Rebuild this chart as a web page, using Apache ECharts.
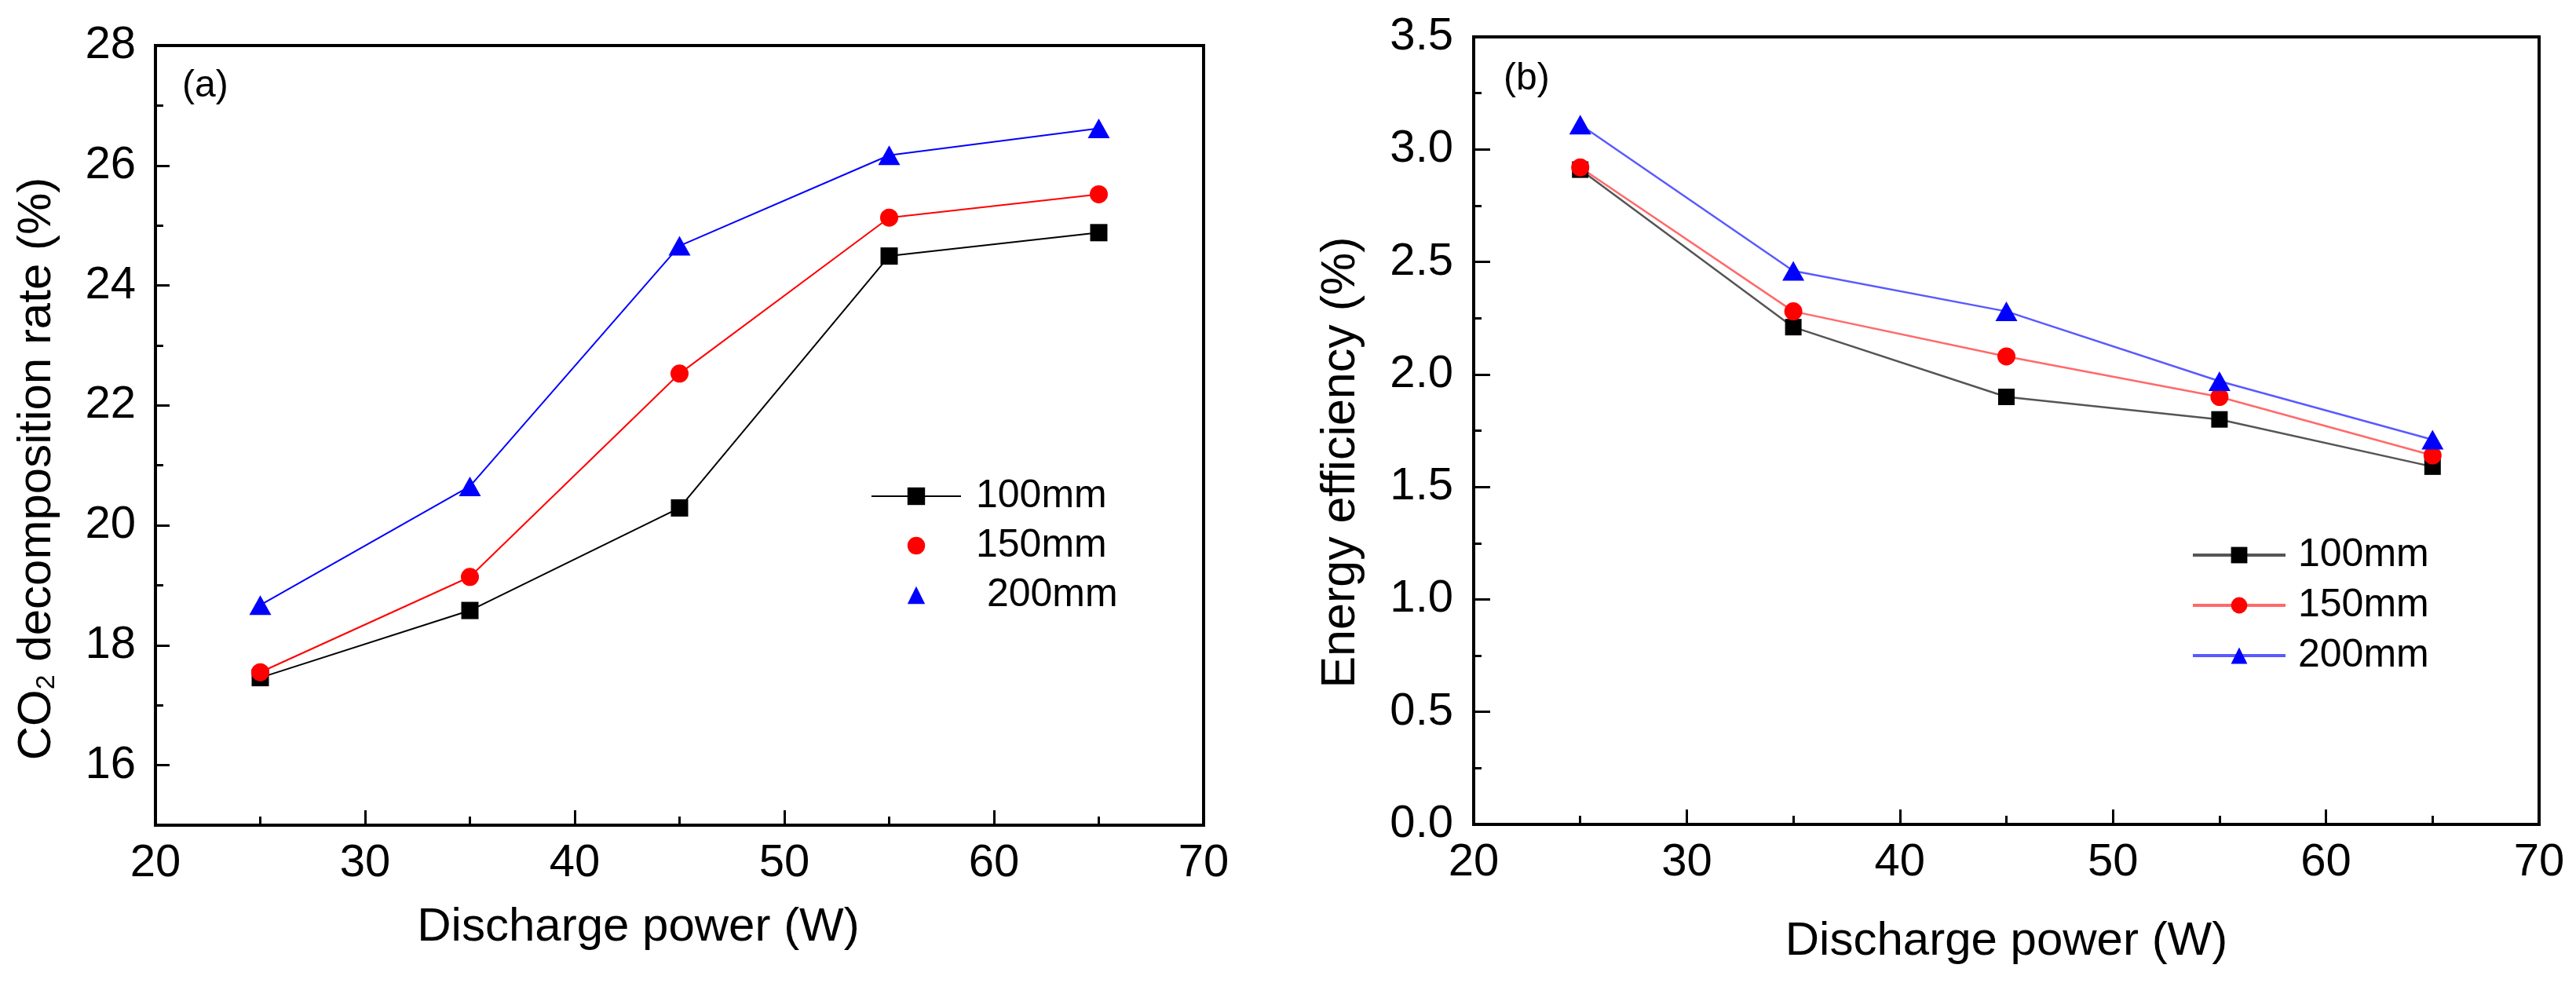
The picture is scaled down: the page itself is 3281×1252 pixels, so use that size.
<!DOCTYPE html>
<html>
<head>
<meta charset="utf-8">
<title>CO2 decomposition rate and energy efficiency</title>
<script src="https://cdn.jsdelivr.net/npm/echarts@6/dist/echarts.min.js"></script>
<style>
html,body{margin:0;padding:0;background:#fff;}
#chart{width:3281px;height:1252px;}
</style>
</head>
<body>
<div id="chart"></div>
<script>
// discharge power (W)
var power = [25, 35, 45, 55, 65];
// (a) CO2 decomposition rate (%)
var decomp100 = [17.46, 18.58, 20.29, 24.49, 24.88];
var decomp150 = [17.55, 19.14, 22.53, 25.13, 25.52];
var decomp200 = [18.67, 20.65, 24.66, 26.17, 26.62];
// (b) energy efficiency (%)
var eff100 = [2.91, 2.21, 1.90, 1.80, 1.59];
var eff150 = [2.92, 2.28, 2.08, 1.90, 1.64];
var eff200 = [3.11, 2.46, 2.28, 1.97, 1.71];
// tick values
var decompTicks = [16, 18, 20, 22, 24, 26, 28];
var decompMinor = [17, 19, 21, 23, 25, 27];

var FONT = '"Liberation Sans", Arial, sans-serif';

function pairs(ys){
	return power.map(function(x, i){ return [x, ys[i]]; });
}

//坐标轴公共样式
function xAxisFor(grid, gap, pad){
	return {
		gridIndex: grid, type: 'value', min: 20, max: 70, interval: 10,
		axisLine: {lineStyle: {color: '#000', width: 4}},
		axisTick: {inside: true, length: 19, lineStyle: {color: '#000', width: 3}},
		minorTick: {show: true, splitNumber: 2, length: 11, lineStyle: {color: '#000', width: 3}},
		axisLabel: {margin: 20, color: '#000', fontSize: 58, lineHeight: 58, fontFamily: FONT},
		splitLine: {show: false},
		name: 'Discharge power (W)', nameLocation: 'middle', nameGap: gap,
		nameTextStyle: {color: '#000', fontSize: 60, lineHeight: 60, fontFamily: FONT, padding: pad}
	};
}

var chart = echarts.init(document.getElementById('chart'));

var option = {
	backgroundColor: '#fff',
	animation: false,
	grid: [
		{left: 198, top: 58, width: 1335, height: 993, show: true, borderColor: '#000', borderWidth: 4},
		{left: 1877, top: 47, width: 1357, height: 1003, show: true, borderColor: '#000', borderWidth: 4}
	],
	xAxis: [
		xAxisFor(0, 100, [0, 105, 0, 0]),
		xAxisFor(1, 119, [0, 0, 0, 0])
	],
	yAxis: [
		{
			gridIndex: 0, type: 'value', min: 15, max: 28,
			axisLine: {lineStyle: {color: '#000', width: 4}},
			axisTick: {inside: true, length: 18, customValues: decompTicks, lineStyle: {color: '#000', width: 3}},
			axisLabel: {margin: 25, customValues: decompTicks, color: '#000', fontSize: 58, fontFamily: FONT},
			splitLine: {show: false}
		},
		{
			gridIndex: 0, type: 'value', min: 15, max: 28, position: 'left',
			axisLine: {lineStyle: {color: '#000', width: 4}},
			axisTick: {inside: true, length: 10, customValues: decompMinor, lineStyle: {color: '#000', width: 3}},
			axisLabel: {show: false},
			splitLine: {show: false}
		},
		{
			gridIndex: 1, type: 'value', min: 0, max: 3.5, interval: 0.5,
			axisLine: {lineStyle: {color: '#000', width: 4}},
			axisTick: {inside: true, length: 21, lineStyle: {color: '#000', width: 3}},
			minorTick: {show: true, splitNumber: 2, length: 10, lineStyle: {color: '#000', width: 3}},
			axisLabel: {margin: 26, color: '#000', fontSize: 58, fontFamily: FONT,
				formatter: function(v){ return v.toFixed(1); }},
			splitLine: {show: false}
		}
	],
	legend: [
		{
			orient: 'vertical', left: 1104, top: 602, itemWidth: 114, itemHeight: 28, itemGap: 13,
			textStyle: {color: '#000', fontSize: 50, lineHeight: 50, fontFamily: FONT, padding: [0, 0, 0, 14]},
			formatter: function(n){ return n === '200mm' ? ' 200mm' : n; },
			data: [
				{name: '100mm'},
				{name: '150mm', lineStyle: {color: 'rgba(0,0,0,0)'}},
				{name: '200mm', lineStyle: {color: 'rgba(0,0,0,0)'}}
			],
			selectedMode: false
		},
		{
			orient: 'vertical', left: 2786, top: 677, itemWidth: 118, itemHeight: 26, itemGap: 14,
			textStyle: {color: '#000', fontSize: 50, lineHeight: 50, fontFamily: FONT, padding: [0, 0, 0, 11]},
			lineStyle: {width: 4},
			data: ['100mm ', '150mm ', '200mm '],
			formatter: function(n){ return n.trim(); },
			selectedMode: false
		}
	],
	series: [
		{name: '100mm', type: 'line', xAxisIndex: 0, yAxisIndex: 0, data: pairs(decomp100),
			symbol: 'rect', symbolSize: 22, itemStyle: {color: '#000'}, lineStyle: {color: '#000', width: 2}},
		{name: '150mm', type: 'line', xAxisIndex: 0, yAxisIndex: 0, data: pairs(decomp150),
			symbol: 'circle', symbolSize: 23, itemStyle: {color: '#ff0000'}, lineStyle: {color: '#ff0000', width: 2}},
		{name: '200mm', type: 'line', xAxisIndex: 0, yAxisIndex: 0, data: pairs(decomp200),
			symbol: 'triangle', symbolSize: [28, 25], itemStyle: {color: '#0000ff'}, lineStyle: {color: '#0000ff', width: 2}},
		//右图
		{name: '100mm ', type: 'line', xAxisIndex: 1, yAxisIndex: 2, data: pairs(eff100),
			symbol: 'rect', symbolSize: 21, itemStyle: {color: '#000'}, lineStyle: {color: '#555', width: 2.5}},
		{name: '150mm ', type: 'line', xAxisIndex: 1, yAxisIndex: 2, data: pairs(eff150),
			symbol: 'circle', symbolSize: 23, itemStyle: {color: '#ff0000'}, lineStyle: {color: '#ff6a6a', width: 2.5}},
		{name: '200mm ', type: 'line', xAxisIndex: 1, yAxisIndex: 2, data: pairs(eff200),
			symbol: 'triangle', symbolSize: [28, 25], itemStyle: {color: '#0000ff'}, lineStyle: {color: '#5a5aff', width: 2.5}}
	],
	graphic: [
		{type: 'text', x: 232, y: 110, style: {text: '(a)', fill: '#000', fontSize: 48, fontFamily: FONT, verticalAlign: 'middle'}},
		{type: 'text', x: 1915, y: 101, style: {text: '(b)', fill: '#000', fontSize: 48, fontFamily: FONT, verticalAlign: 'middle'}},
		{type: 'text', x: 47, y: 597, rotation: Math.PI / 2,
			style: {
				text: '{n|CO}{s|2}{n| decomposition rate (%)}',
				fill: '#000', fontFamily: FONT, fontSize: 60, align: 'center', verticalAlign: 'middle',
				rich: {
					n: {fontSize: 60, lineHeight: 60, fontFamily: FONT, verticalAlign: 'top'},
					s: {fontSize: 34, lineHeight: 30, fontFamily: FONT, verticalAlign: 'bottom', padding: [45, 0, 0, 0]}
				}
			}},
		{type: 'text', x: 1708, y: 589, rotation: Math.PI / 2,
			style: {text: 'Energy efficiency (%)', fill: '#000', fontSize: 61, fontFamily: FONT, align: 'center', verticalAlign: 'middle'}}
	]
};

chart.setOption(option);
window.onresize = function(){ chart.resize(); };
</script>
</body>
</html>
